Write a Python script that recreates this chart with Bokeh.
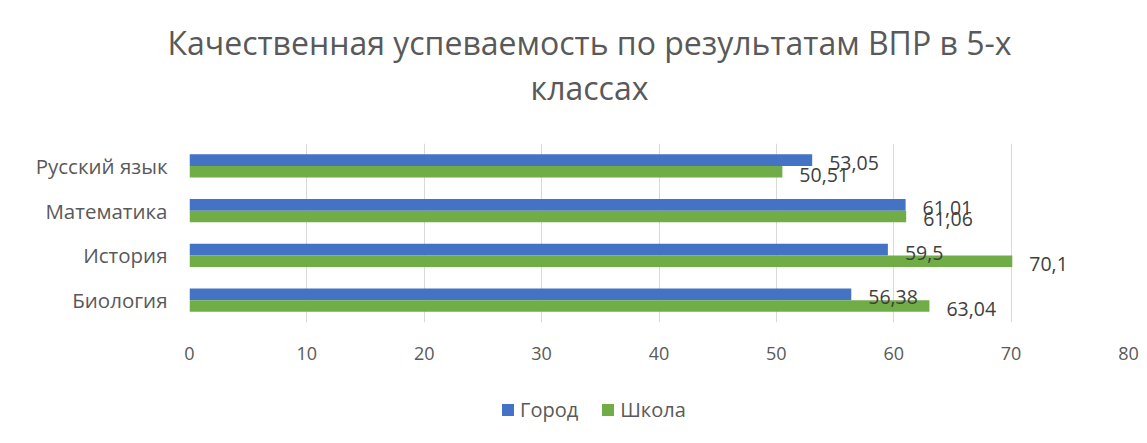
from bokeh.plotting import figure
from bokeh.layouts import column
from bokeh.models import (ColumnDataSource, Range1d, FactorRange, SingleIntervalTicker,
                          Legend, LegendItem, Div)
from bokeh.transform import dodge
from bokeh.core.properties import value
from bokeh.embed import file_html
from bokeh.resources import INLINE

subjects = ["Русский язык", "Математика", "История", "Биология"]
gorod = [53.05, 61.01, 59.5, 56.38]
shkola = [50.51, 61.06, 70.1, 63.04]
series_names = ["Город", "Школа"]
title_lines = ["Качественная успеваемость по результатам ВПР в 5-х", "классах"]

FONT = "Open Sans"
TXT = "#595959"
BLUE = "#4472C4"
GREEN = "#70AD47"
W = 1147
H_TITLE, H_MAIN, H_LEG = 118, 265, 60


def fmt(v):
    return f"{v:g}".replace(".", ",")


# ---- title ----
title = Div(
    text=("<div style=\"font-family:'Open Sans';font-size:32px;color:%s;line-height:45px;"
          "text-align:center;box-sizing:border-box;width:1147px;padding-left:32px;"
          "padding-top:20px;white-space:nowrap\">%s<br>%s</div>")
         % (TXT, title_lines[0], title_lines[1]),
    width=W, height=H_TITLE, margin=0)

# ---- main chart ----
src = ColumnDataSource(dict(
    subj=subjects, gorod=gorod, shkola=shkola,
    gorod_lbl=[fmt(v) for v in gorod], shkola_lbl=[fmt(v) for v in shkola],
))

p = figure(width=W, height=H_MAIN, output_backend="svg", toolbar_location=None, title=None,
           x_range=Range1d(0, 80), y_range=FactorRange(*reversed(subjects)),
           min_border_left=189, min_border_right=19, min_border_top=25, min_border_bottom=61)
p.outline_line_color = None

bw = 0.26
p.hbar(y=dodge("subj", bw / 2, range=p.y_range), right="gorod", left=0, height=bw,
       source=src, fill_color=BLUE, line_color=None)
p.hbar(y=dodge("subj", -bw / 2, range=p.y_range), right="shkola", left=0, height=bw,
       source=src, fill_color=GREEN, line_color=None)

for col, xcol, off in (("gorod_lbl", "gorod", bw / 2), ("shkola_lbl", "shkola", -bw / 2)):
    p.text(x=xcol, y=dodge("subj", off, range=p.y_range), text=col, source=src,
           x_offset=17, y_offset=3, text_align="left", text_baseline="middle",
           text_font=value(FONT), text_font_size="19.5px", text_color="#404040")

p.xaxis.ticker = SingleIntervalTicker(interval=10)
for ax in (p.xaxis[0], p.yaxis[0]):
    ax.axis_line_color = None
    ax.major_tick_line_color = None
    ax.minor_tick_line_color = None
    ax.major_tick_out = 0
    ax.major_tick_in = 0
    ax.major_label_text_font = FONT
    ax.major_label_text_color = TXT
p.xaxis.major_label_text_font_size = "18px"
p.yaxis.major_label_text_font_size = "20.5px"
p.xaxis.major_label_standoff = 20
p.yaxis.major_label_standoff = 22

p.xgrid.grid_line_color = "#D9D9D9"
p.xgrid.grid_line_width = 1
p.ygrid.grid_line_color = None

# ---- legend (own strip below the chart) ----
lf = figure(width=W, height=H_LEG, output_backend="svg", toolbar_location=None,
            x_range=Range1d(0, 80), y_range=Range1d(0, 1),
            x_axis_location=None, y_axis_location=None,
            min_border_left=189, min_border_right=19, min_border_top=0, min_border_bottom=0)
lf.outline_line_color = None
lf.grid.grid_line_color = None
# zero-size proxies carrying the series colours for the legend swatches
lr1 = lf.hbar(y=0.5, left="gorod", right="gorod", height=0, source=src,
              fill_color=BLUE, line_color=None)
lr2 = lf.hbar(y=0.5, left="shkola", right="shkola", height=0, source=src,
              fill_color=GREEN, line_color=None)
legend = Legend(items=[LegendItem(label=series_names[0], renderers=[lr1]),
                       LegendItem(label=series_names[1], renderers=[lr2])],
                orientation="horizontal", location=(311, 20),
                glyph_width=15, glyph_height=15, label_standoff=5, spacing=22,
                padding=0, margin=0, border_line_color=None, background_fill_alpha=0,
                label_text_font=FONT, label_text_font_size="20px", label_text_color=TXT)
lf.add_layout(legend, "center")

layout = column(title, p, lf, spacing=0)
open("out.html", "w").write(file_html(layout, INLINE))
